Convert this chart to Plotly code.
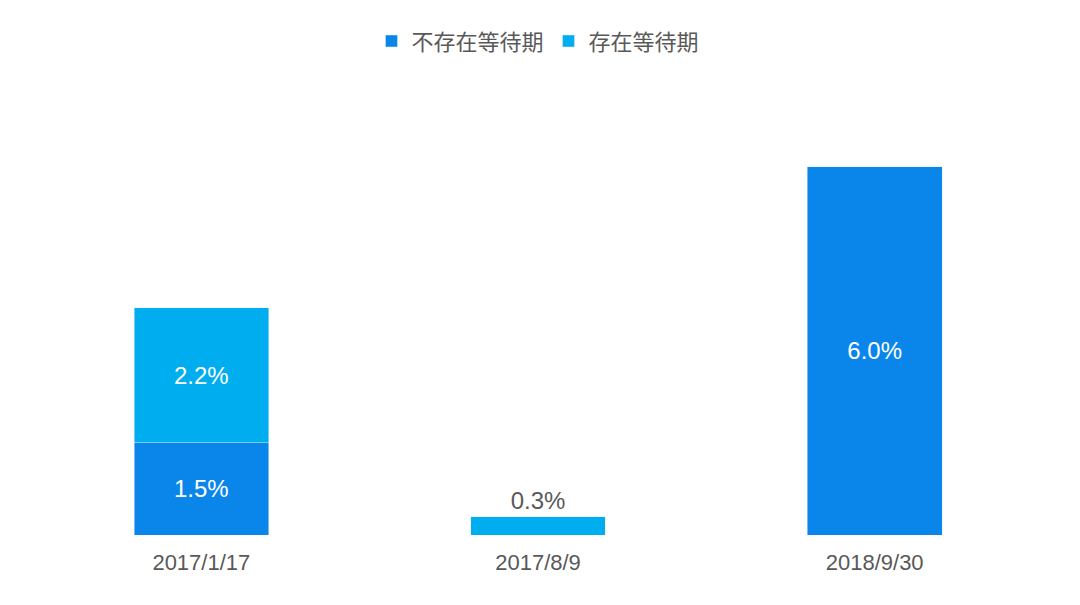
import plotly.graph_objects as go

categories = ["2017/1/17", "2017/8/9", "2018/9/30"]
no_wait = [1.5, None, 6.0]
with_wait = [2.2, 0.3, None]
no_wait_text = ["1.5%", "", "6.0%"]
with_wait_text = ["2.2%", "0.3%", ""]

fig = go.Figure()
fig.add_bar(x=categories, y=no_wait, name="不存在等待期", marker_color="#0A86EA",
            text=no_wait_text, textposition="inside", insidetextanchor="middle",
            textfont=dict(color="white", size=24, family="Arial"))
fig.add_bar(x=categories, y=with_wait, name="存在等待期", marker_color="#00AEEF",
            text=with_wait_text, textposition=["inside", "outside", "none"],
            insidetextanchor="middle", cliponaxis=False,
            textfont=dict(size=24, family="Arial"),
            insidetextfont=dict(color="white", size=24, family="Arial"),
            outsidetextfont=dict(color="#595959", size=24, family="Arial"))
fig.update_layout(
    barmode="stack", bargap=0.6, width=1080, height=605,
    plot_bgcolor="white", paper_bgcolor="white",
    font=dict(family="Noto Sans CJK SC, Arial", color="#595959"),
    margin=dict(l=25, r=45, t=92, b=78),
    legend=dict(orientation="h", x=0.5, xanchor="center", y=1.2, yanchor="bottom",
                font=dict(size=22), traceorder="normal"),
    uniformtext=dict(minsize=10, mode="show"),
)
fig.update_xaxes(showline=False, ticks="outside", ticklen=8, tickcolor="white",
                 tickfont=dict(size=22, family="Arial"))
fig.update_yaxes(visible=False, range=[0, 6.42])
fig.write_html("out.html")
